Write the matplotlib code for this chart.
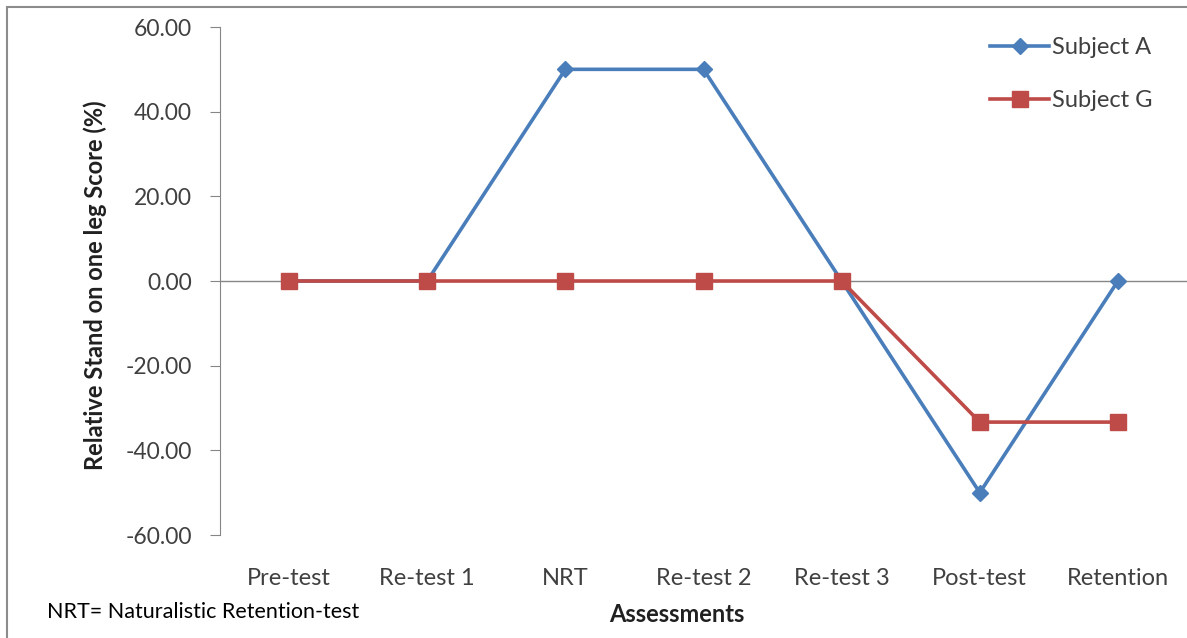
# Relative stand on one leg score per assessment

import numpy as np
import matplotlib.pyplot as plt
from matplotlib.patches import Rectangle

plt.rcParams['font.family'] = ['Lato', 'DejaVu Sans']

# Datos
assessments = ['Pre-test', 'Re-test 1', 'NRT', 'Re-test 2', 'Re-test 3', 'Post-test', 'Retention']
subject_a = [0.0, 0.0, 50.0, 50.0, 0.0, -50.0, 0.0]
subject_g = [0.0, 0.0, 0.0, 0.0, 0.0, -33.33, -33.33]
y_ticks = [-60, -40, -20, 0, 20, 40, 60]

fig = plt.figure(figsize=(11.87, 6.38), dpi=100)
ax = fig.add_axes([220/1187, 1-535/638, 1-220/1187, (535-27)/638])

x = np.arange(len(assessments))
ax.plot(x, subject_a, color='#4A7EBB', lw=2.6, marker='D', ms=8,
        label='Subject A', zorder=3)
ax.plot(x, subject_g, color='#BE4B48', lw=2.6, marker='s', ms=12,
        label='Subject G', zorder=4)

ax.set_xlim(-0.5, len(assessments) - 0.5)
ax.set_ylim(-60, 60)
ax.set_yticks(y_ticks)
ax.set_yticklabels([f'{v:.2f}' for v in y_ticks], fontsize=16.5, color='#404040')
ax.tick_params(axis='y', direction='out', length=7, color='#868686', pad=13)

# eje de categorias en y=0, etiquetas abajo
ax.axhline(0, color='#868686', lw=1, zorder=1)
ax.set_xticks(x)
ax.set_xticklabels([])
ax.tick_params(axis='x', length=0)
for xi, lab in zip(x, assessments):
    ax.text(xi, -70.3, lab, ha='center', va='center', fontsize=17, color='#404040')

for s in ['top', 'right', 'bottom']:
    ax.spines[s].set_visible(False)
ax.spines['left'].set_color('#868686')

ax.set_ylabel('Relative Stand on one leg Score (%)', fontsize=17, fontweight='bold',
              color='#202020')
ax.yaxis.set_label_coords((95-220)/(1187-220), (638-285-103)/508 , transform=ax.transAxes)
ax.yaxis.label.set_va('center')

fig.text(677/1187, 1-615/638, 'Assessments', ha='center', va='center',
         fontsize=17, fontweight='bold', color='#202020')
fig.text(47/1187, 1-612/638, 'NRT= Naturalistic Retention-test', ha='left',
         va='center', fontsize=15.5, color='black')

leg = ax.legend(loc='upper right', bbox_to_anchor=(0.986, 1.022), frameon=False,
                fontsize=17, labelspacing=1.35, handlelength=2.5, handletextpad=0.1,
                markerscale=1.0)
for t in leg.get_texts():
    t.set_color('#404040')

# borde exterior
fig.patches.append(Rectangle((7/1187, -0.05), 1.2, 1.05 - 7/638,
                             transform=fig.transFigure, fill=False,
                             edgecolor='#8c8c8c', lw=1.5))

fig.savefig('out.png', dpi=100)
